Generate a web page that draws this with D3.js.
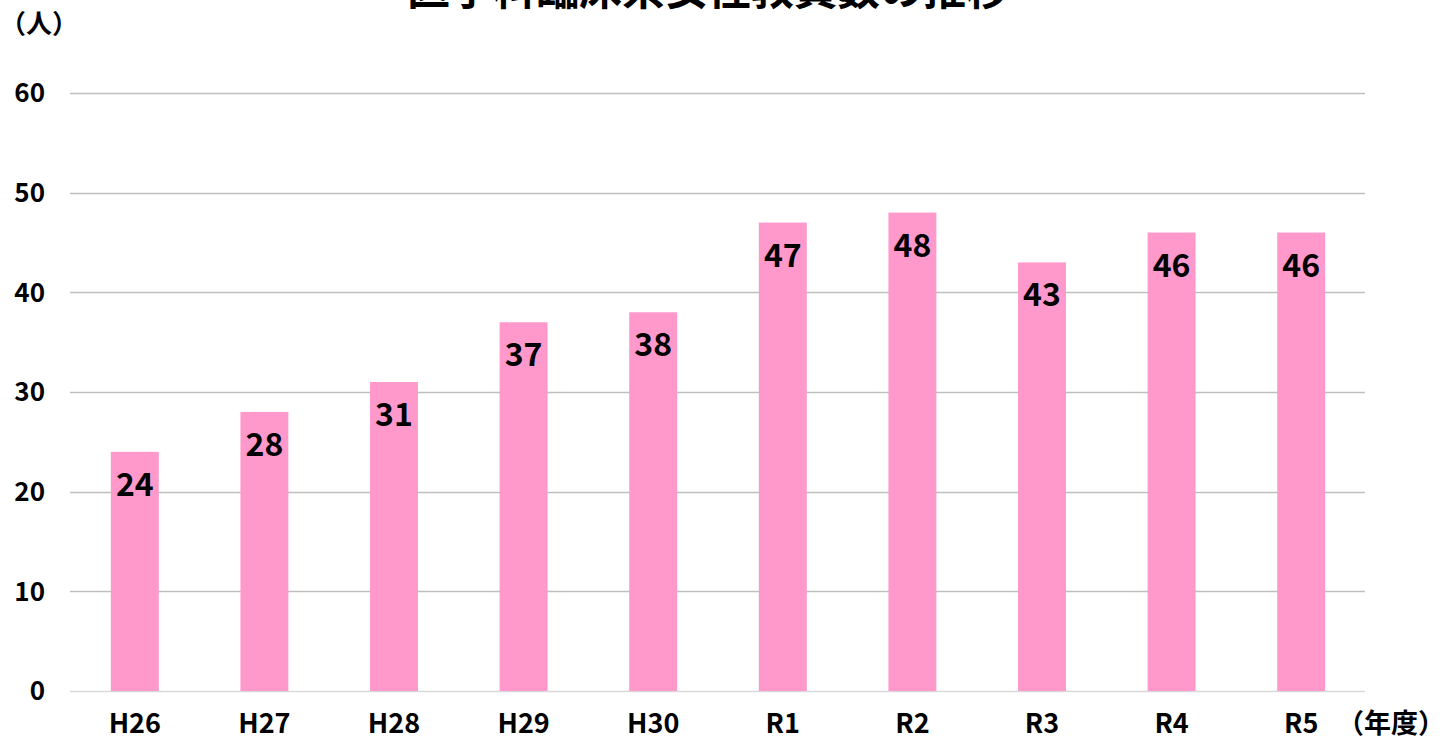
<!DOCTYPE html>
<meta charset="utf-8">
<script src="https://d3js.org/d3.v7.min.js"></script>
<style>
  body { margin: 0; background: #fff; }
  text { font-family: "Noto Sans CJK JP", "Noto Sans", sans-serif; font-weight: bold; fill: #000; }
</style>
<div id="chart"></div>
<script>

// data
const years = ["H26", "H27", "H28", "H29", "H30", "R1", "R2", "R3", "R4", "R5"];
const counts = [24, 28, 31, 37, 38, 47, 48, 43, 46, 46];
const yTicks = [0, 10, 20, 30, 40, 50, 60];

const W = 1451, H = 740;
const plotLeft = 70, plotRight = 1366, plotTop = 93, plotBottom = 691;

const svg = d3.select("#chart").append("svg")
    .attr("width", W)
    .attr("height", H);

const x = d3.scaleBand()
    .domain(years)
    .range([plotLeft, plotRight])
    .paddingInner(0.63)
    .paddingOuter(0.315);

const y = d3.scaleLinear()
    .domain([0, 60])
    .range([plotBottom, plotTop]);

// gridlines
svg.append("g")
  .selectAll("line")
  .data(yTicks)
  .join("line")
    .attr("x1", plotLeft)
    .attr("x2", plotRight - 1)
    .attr("y1", d => Math.round(y(d)) + 0.5)
    .attr("y2", d => Math.round(y(d)) + 0.5)
    .attr("stroke", d => d === 0 ? "#d9d9d9" : "#bfbfbf")
    .attr("stroke-width", 1.3);

// y tick labels
svg.append("g")
  .selectAll("text")
  .data(yTicks)
  .join("text")
    .attr("x", 45)
    .attr("y", d => y(d))
    .attr("dy", "0.36em")
    .attr("text-anchor", "end")
    .style("font-size", "26px")
    .text(d => d);

// bars
svg.append("g")
  .selectAll("rect")
  .data(counts)
  .join("rect")
    .attr("x", (d, i) => x(years[i]))
    .attr("y", d => y(d))
    .attr("width", x.bandwidth())
    .attr("height", d => y(0) - y(d))
    .attr("fill", "#ff99cc");

// value labels
svg.append("g")
  .selectAll("text")
  .data(counts)
  .join("text")
    .attr("x", (d, i) => x(years[i]) + x.bandwidth() / 2)
    .attr("y", d => y(d) + 44)
    .attr("text-anchor", "middle")
    .style("font-size", "32px")
    .text(d => d);

// x labels
svg.append("g")
  .selectAll("text")
  .data(years)
  .join("text")
    .attr("x", d => x(d) + x.bandwidth() / 2)
    .attr("y", 733)
    .attr("text-anchor", "middle")
    .style("font-size", "27px")
    .text(d => d);

// units
svg.append("text")
    .attr("x", 0)
    .attr("y", 33)
    .style("font-size", "26px")
    .text("（人）");

svg.append("text")
    .attr("x", 1337)
    .attr("y", 733)
    .style("font-size", "27px")
    .text("（年度）");

// title (cut off at top, as in the source image)
svg.append("text")
    .attr("x", 708)
    .attr("y", 5)
    .attr("text-anchor", "middle")
    .style("font-size", "43px")
    .text("医学科臨床系女性教員数の推移");

</script>
